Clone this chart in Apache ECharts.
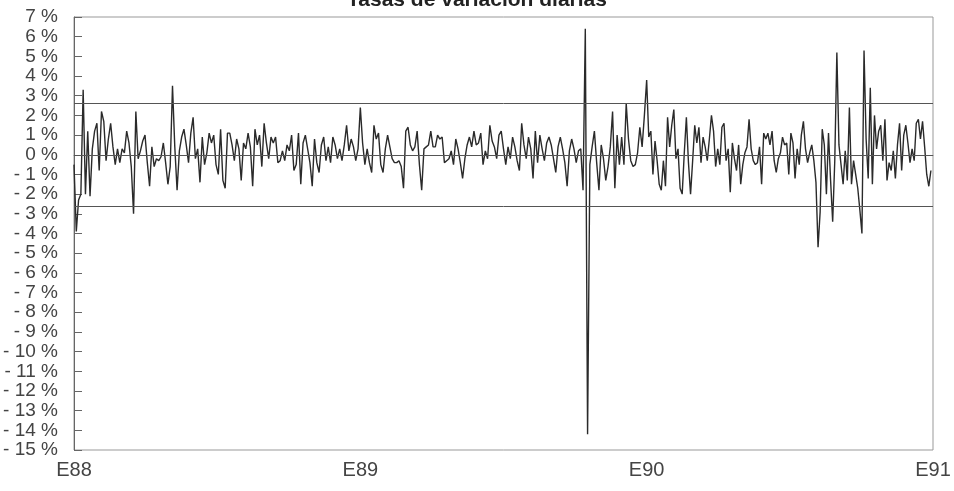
<!DOCTYPE html>
<html>
<head>
<meta charset="utf-8">
<script src="https://cdn.jsdelivr.net/npm/echarts@6/dist/echarts.min.js"></script>
<style>
  html, body { margin: 0; padding: 0; background: #fff; }
  #chart { width: 954px; height: 491px; }
</style>
</head>
<body>
<div id="chart"></div>
<script>
// tasas diarias (%), un array por año
const rates1988 = [
  -0.5, -3.9, -2.3, -2.0, 3.3, -2.0, 1.2, -2.1, 0.3, 1.2, 1.6, -0.8, 2.2, 1.7, -0.3, 0.8, 1.6, 0.4, -0.5, 0.3,
  -0.4, 0.3, 0.1, 1.2, 0.6, -0.6, -3.0, 2.2, -0.2, 0.2, 0.7, 1.0, -0.4, -1.6, 0.4, -0.6, -0.2, -0.3, -0.1, 0.6,
  -0.4, -1.5, -0.6, 3.5, 0.4, -1.8, 0.2, 0.9, 1.3, 0.5, -0.4, 1.1, 1.9, -0.2, 0.3, -1.4, 0.9, -0.5, 0.1, 1.1,
  0.6, 1.0, -0.5, -1.0, 1.3, -1.3, -1.7, 1.1, 1.1, 0.5, -0.3, 0.8, 0.3, -1.3, 0.6, 0.3, 1.1, 0.4, -1.6, 1.3,
  0.5, 1.0, -0.6, 1.6, 0.6, -0.2, 0.9, 0.6, 0.9, -0.4, -0.3, 0.2, -0.3, 0.5, 0.2, 1.0, -0.8, -0.5, 1.1, -1.5,
  0.6, 1.0, 0.3, -0.4, -1.6, 0.8, -0.4, -0.9, 0.5, 0.9, -0.3, 0.4, -0.4, 0.9, 0.5, -0.2, 0.3, -0.3, 0.5, 1.5,
  0.2, 0.8, 0.4, -0.3, 0.3
]
const rates1989 = [
  2.4, 0.6, -0.5, 0.3, -0.4, -0.9, 1.5, 0.8, 1.1, -0.5, -0.9, 0.3, 1.0, 0.4, -0.2, -0.4, -0.4, -0.3, -0.6, -1.7,
  1.2, 1.4, 0.5, 0.2, 0.4, 1.2, -0.5, -1.8, 0.3, 0.4, 0.5, 1.2, 0.4, 0.4, 1.0, 0.8, 0.9, -0.4, -0.3, -0.2,
  0.2, -0.5, 0.8, 0.3, -0.4, -1.2, -0.2, 0.5, 0.9, 0.4, 1.2, 0.5, 0.6, 1.1, -0.5, 0.2, -0.2, 1.5, 0.7, 0.4,
  -0.2, 1.0, 1.2, 0.3, -0.5, 0.4, -0.2, 0.9, 0.4, -0.3, -0.8, 1.6, 0.5, -0.2, 0.9, 0.3, -1.2, 1.2, -0.4, 1.0,
  0.3, -0.3, 0.6, 0.9, 0.5, -0.2, -0.9, 0.4, 0.9, 0.3, -0.4, -1.6, 0.2, 0.8, 0.3, -0.4, 0.2, 0.3, -1.8, 6.4,
  -14.2, -0.5, 0.4, 1.2, -0.4, -1.8, 0.5, -0.2, -1.3, -0.6, 0.4, 2.2, -1.7, 1.0, -0.5, 0.9, -0.5, 2.6, 0.8, -0.3,
  -0.6, -0.5, 0.1, 1.4, 0.4, 2.0
]
const rates1990 = [
  3.8, 0.9, 1.2, -1.0, 0.7, -0.3, -1.5, -1.8, -0.3, -1.6, 1.9, 0.4, 1.5, 2.3, -0.2, 0.3, -1.7, -2.0, 0.1, 1.9,
  -0.4, -2.0, -0.3, 1.5, 0.6, 1.4, -0.4, 0.9, 0.4, -0.3, 0.8, 2.0, 1.2, -0.6, 0.3, -0.5, 1.4, 1.6, -0.3, 0.3,
  -1.9, 0.6, -0.2, -0.8, 0.5, -1.5, -0.5, 0.1, 0.4, 1.8, 0.3, -0.3, -0.5, -0.4, 0.4, -1.5, 1.1, 0.8, 1.1, 0.5,
  1.2, -0.3, -0.9, -0.2, 0.1, 0.9, 0.5, 0.6, -1.0, 1.1, 0.6, -1.2, 0.3, -0.5, 1.0, 1.7, 0.3, -0.4, 0.1, 0.5,
  -0.3, -1.4, -4.7, -2.9, 1.3, 0.5, -2.0, 1.1, -1.3, -3.4, -0.3, 5.2, 0.5, -0.5, -1.5, 0.2, -1.3, 2.4, -1.5, -0.3,
  -1.0, -1.7, -2.8, -4.0, 5.3, 0.8, -1.2, 3.4, -1.5, 2.0, 0.3, 1.2, 1.5, -0.3, 1.8, -1.3, -0.4, -0.8, 0.2, -1.2,
  0.5, 1.6, -0.8, 1.0, 1.5, 0.6, -0.4, 0.3, -0.3, 1.6, 1.8, 0.8, 1.7, 0.4, -1.0, -1.6, -0.8
]
const yearLabels = ['E88', 'E89', 'E90', 'E91']
const bandLimits = [2.6, 0, -2.6]

const chartDom = document.getElementById('chart')
const chart = echarts.init(chartDom)

// x en años desde E88
const points = []
;[rates1988, rates1989, rates1990].forEach((arr, k) => {
  arr.forEach((v, i) => {
    points.push([k + i / arr.length, v])
  })
})

const labelFont = "'Liberation Sans Narrow', 'Liberation Sans', Arial, sans-serif"

const option = {
  animation: false,
  backgroundColor: '#fff',
  title: {
    text: 'Tasas de variación diarias',
    left: 'center',
    top: -15,
    textStyle: {
      color: '#222',
      fontSize: 21,
      fontWeight: 'bold',
      fontFamily: labelFont
    }
  },
  grid: {
    left: 74,
    right: 21,
    top: 17,
    bottom: 41,
    show: true,
    borderColor: '#999',
    borderWidth: 1
  },
  xAxis: {
    type: 'value',
    min: 0,
    max: 3,
    interval: 1,
    splitLine: { show: false },
    axisTick: { show: false },
    axisLine: { lineStyle: { color: '#888' } },
    axisLabel: {
      color: '#444',
      fontSize: 20,
      fontFamily: labelFont,
      margin: 10,
      formatter: function (value) {
        return yearLabels[Math.round(value)]
      }
    }
  },
  yAxis: {
    type: 'value',
    min: -15,
    max: 7,
    interval: 1,
    splitLine: { show: false },
    axisLine: { show: true, lineStyle: { color: '#666' } },
    axisTick: { show: true, inside: true, length: 8, lineStyle: { color: '#666' } },
    axisLabel: {
      color: '#444',
      fontSize: 19,
      fontFamily: labelFont,
      margin: 16,
      formatter: function (value) {
        return (value < 0 ? '- ' + (-value) : value) + ' %'
      }
    }
  },
  series: [
    {
      type: 'line',
      data: points,
      symbol: 'none',
      lineStyle: { color: '#2a2a2a', width: 1.4 },
      markLine: {
        silent: true,
        symbol: 'none',
        label: { show: false },
        lineStyle: { color: '#555', width: 1, type: 'solid' },
        data: bandLimits.map(v => ({ yAxis: v }))
      }
    }
  ]
}

chart.setOption(option)
</script>
</body>
</html>
